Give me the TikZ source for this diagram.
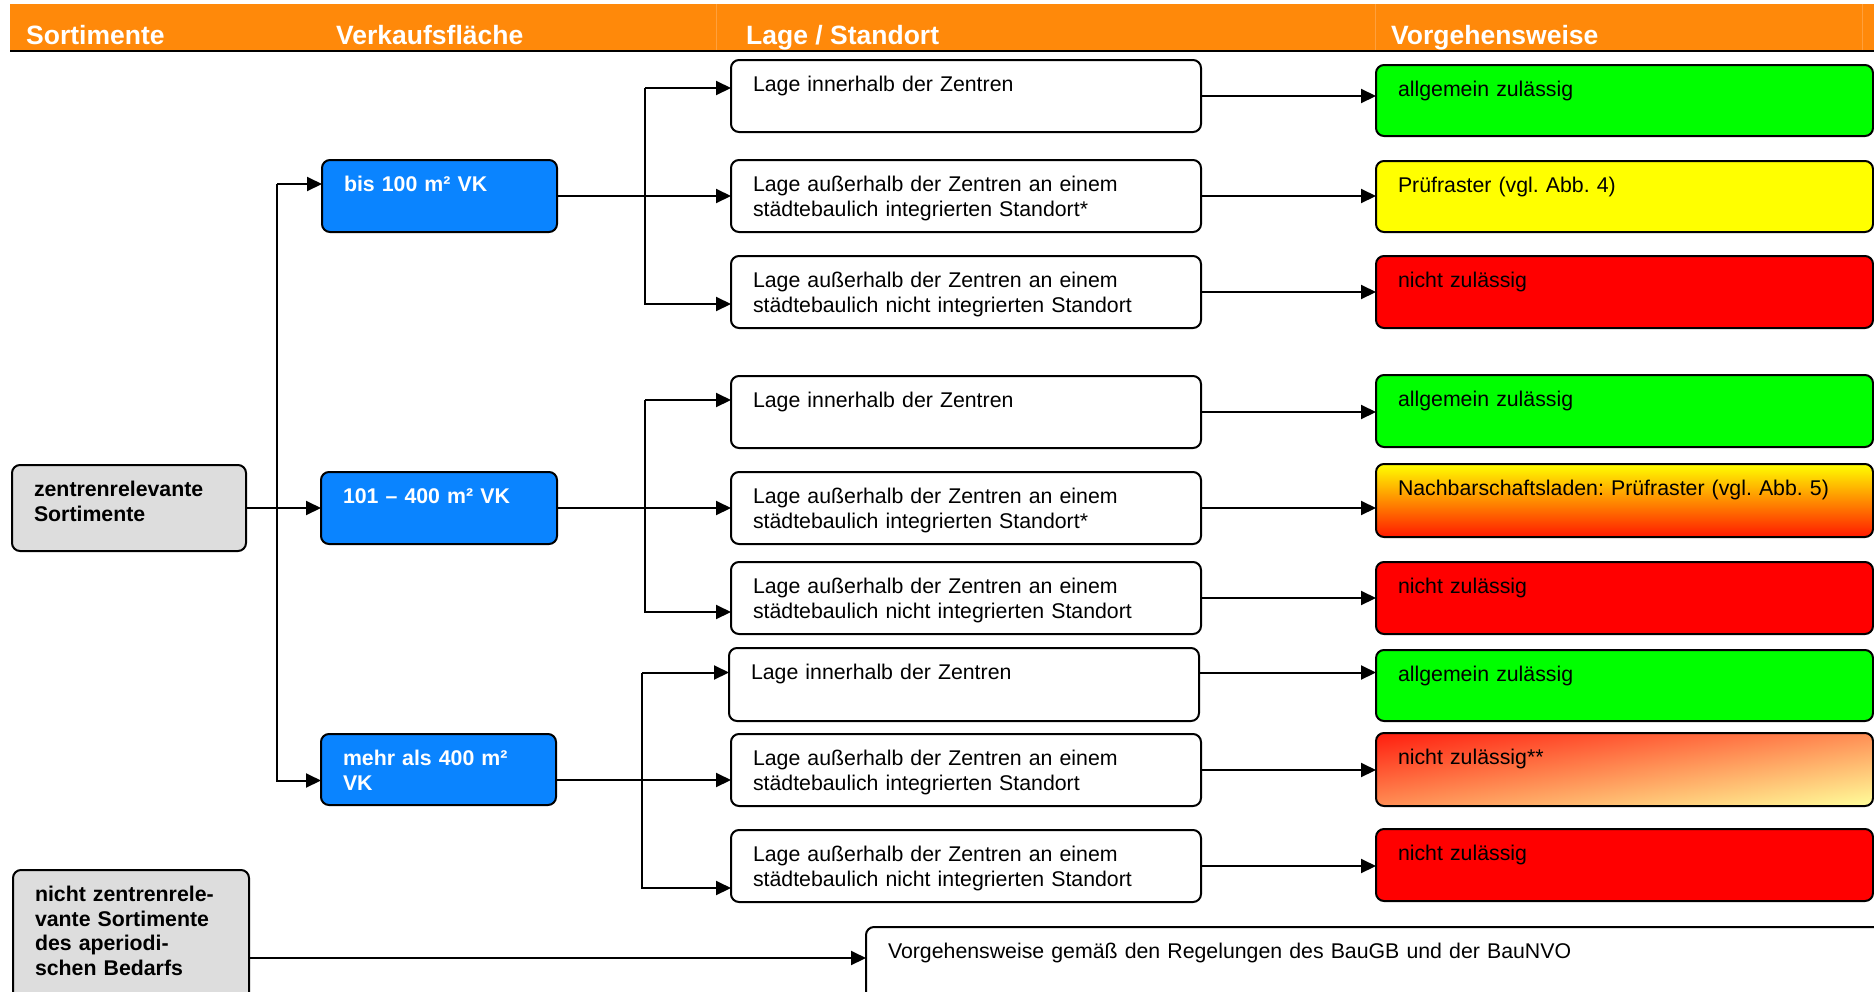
\documentclass[tikz,border=0pt]{standalone}
\usepackage{fontspec}
\setmainfont{Liberation Sans}
\usetikzlibrary{arrows.meta,backgrounds}
\frenchspacing
\definecolor{hdr}{RGB}{255,137,10}
\definecolor{hdrline}{RGB}{255,160,60}
\definecolor{vkblue}{RGB}{10,132,255}
\definecolor{sgrey}{RGB}{221,221,221}
\definecolor{okgreen}{RGB}{0,255,0}
\definecolor{pryellow}{RGB}{255,255,0}
\definecolor{nored}{RGB}{255,0,0}
\definecolor{gradred}{RGB}{255,25,0}
\definecolor{startred}{RGB}{255,30,15}
\definecolor{lightyel}{RGB}{255,255,155}
\begin{document}
\begin{tikzpicture}[x=1pt,y=-1pt,
  bx/.style={draw=black, line width=2pt, rounded corners=8pt, anchor=north west,
    inner xsep=22pt, inner ysep=0pt, outer sep=0pt, align=left,
    minimum width=0pt, minimum height=0pt, text height=31.5pt,
    font=\fontsize{21.3}{24.5}\selectfont},
  lage/.style={bx, fill=white, text width=426pt},
  res/.style={bx, text width=453pt},
  vk/.style={bx, fill=vkblue, text=white, font=\fontsize{21.3}{24.5}\selectfont\bfseries},
  sort/.style={bx, fill=sgrey, font=\fontsize{21.3}{24.5}\selectfont\bfseries},
  arr/.style={line width=2pt, -{Triangle[length=15pt,width=14pt]}},
  hd/.style={anchor=base west, text=white, inner sep=0pt,
    font=\fontsize{26.5}{30}\selectfont\bfseries}
]
\useasboundingbox (0,0) rectangle (1874,991);
\clip (0,0) rectangle (1874,991);

% header band
\fill[hdr] (10,4) rectangle (1874,50);
\foreach \xx in {716,1375,1862} \draw[hdrline, line width=1pt] (\xx,4) -- (\xx,50);
\draw[line width=2pt] (10,51) -- (1874,51);
\node[hd] (h1) at (26,44) {Sortimente};
\node[hd] (h2) at (336,44) {Verkaufsfläche};
\node[hd] (h3) at (746,44) {Lage / Standort};
\node[hd] (h4) at (1391,44) {Vorgehensweise};

% Sortimente
\node[sort, text width=190pt, text depth=54.5pt] (g1) at (12,465) {zentrenrelevante\\Sortimente};
\node[sort, text width=192pt, text depth=118.5pt] (g2) at (13,870) {nicht zentrenrele-\\vante Sortimente\\des aperiodi-\\schen Bedarfs};

% Verkaufsflaeche
\node[vk, text width=191pt, text depth=40.5pt] (b1) at (322,160) {bis 100 m² VK};
\node[vk, text width=192pt, text depth=40.5pt] (b2) at (321,472) {101 – 400 m² VK};
\node[vk, text width=191pt, text depth=39.5pt] (b3) at (321,734) {mehr als 400 m²\\VK};

% Lage
\node[lage, text depth=40.5pt] (l1) at (731,60)  {Lage innerhalb der Zentren};
\node[lage, text depth=40.5pt] (l2) at (731,160) {Lage außerhalb der Zentren an einem\\städtebaulich integrierten Standort*};
\node[lage, text depth=40.5pt] (l3) at (731,256) {Lage außerhalb der Zentren an einem\\städtebaulich nicht integrierten Standort};
\node[lage, text depth=40.5pt] (l4) at (731,376) {Lage innerhalb der Zentren};
\node[lage, text depth=40.5pt] (l5) at (731,472) {Lage außerhalb der Zentren an einem\\städtebaulich integrierten Standort*};
\node[lage, text depth=40.5pt] (l6) at (731,562) {Lage außerhalb der Zentren an einem\\städtebaulich nicht integrierten Standort};
\node[lage, text depth=41.5pt] (l7) at (729,648) {Lage innerhalb der Zentren};
\node[lage, text depth=40.5pt] (l8) at (731,734) {Lage außerhalb der Zentren an einem\\städtebaulich integrierten Standort};
\node[lage, text depth=40.5pt] (l9) at (731,830) {Lage außerhalb der Zentren an einem\\städtebaulich nicht integrierten Standort};

% Vorgehensweise
\node[res, fill=okgreen, text depth=39.5pt] (r1) at (1376,65)  {allgemein zulässig};
\node[res, fill=pryellow, text depth=39.5pt] (r2) at (1376,161) {Prüfraster (vgl. Abb. 4)};
\node[res, fill=nored, text depth=40.5pt] (r3) at (1376,256) {nicht zulässig};
\node[res, fill=okgreen, text depth=40.5pt] (r4) at (1376,375) {allgemein zulässig};
\node[res, top color=pryellow, bottom color=gradred, text depth=41.5pt] (r5) at (1376,464) {Nachbarschaftsladen: Prüfraster (vgl. Abb. 5)};
\node[res, fill=nored, text depth=40.5pt] (r6) at (1376,562) {nicht zulässig};
\node[res, fill=okgreen, text depth=39.5pt] (r7) at (1376,650) {allgemein zulässig};
\node[res, text depth=41.5pt] (r8) at (1376,733) {nicht zulässig**};
\node[res, fill=nored, text depth=40.5pt] (r9) at (1376,829) {nicht zulässig};
% diagonal gradient of r8 (red at top left, light yellow at bottom right)
\begin{pgfonlayer}{background}
  \shade[top color=startred, bottom color=lightyel, rounded corners=8pt]
    (r8.north west) rectangle (r8.south east);
  \shade[left color=startred, right color=lightyel, opacity=0.5, rounded corners=8pt]
    (r8.north west) rectangle (r8.south east);
\end{pgfonlayer}

% bottom box
\node[bx, fill=white, text width=986pt, text depth=68.5pt] (bb) at (866,927) {Vorgehensweise gemäß den Regelungen des BauGB und der BauNVO};

% connectors: Sortimente -> Verkaufsflaeche
\coordinate (tr) at (277,0);
\coordinate (b1in) at ([yshift=12pt]b1.west);
\coordinate (b3in) at ([yshift=-11pt]b3.west);
\draw[arr] (g1.east) -- (g1.east -| b2.west);
\draw[arr] (tr |- b1in) -- (b1in);
\draw[arr] (tr |- b1in) |- (b3in);

% Verkaufsflaeche -> Lage, group 1
\coordinate (br1) at (645,0);
\coordinate (l1in) at ([yshift=8pt]l1.west);
\coordinate (l3in) at ([yshift=-12pt]l3.west);
\draw[arr] (b1.east) -- (b1.east -| l2.west);
\draw[arr] (br1 |- l1in) -- (l1in);
\draw[arr] (br1 |- l1in) |- (l3in);

% group 2
\coordinate (l4in) at ([yshift=12pt]l4.west);
\coordinate (l6in) at ([yshift=-14pt]l6.west);
\draw[arr] (b2.east) -- (b2.east -| l5.west);
\draw[arr] (br1 |- l4in) -- (l4in);
\draw[arr] (br1 |- l4in) |- (l6in);

% group 3
\coordinate (br3) at (642,0);
\coordinate (b3out) at ([yshift=-10.5pt]b3.east);
\coordinate (l7in) at ([yshift=12pt]l7.west);
\coordinate (l9in) at ([yshift=-22pt]l9.west);
\draw[arr] (b3out) -- (b3out -| l8.west);
\draw[arr] (br3 |- l7in) -- (l7in);
\draw[arr] (br3 |- l7in) |- (l9in);

% Lage -> Vorgehensweise
\draw[arr] (l1.east) -- (l1.east -| r1.west);
\draw[arr] (l2.east) -- (l2.east -| r2.west);
\draw[arr] (l3.east) -- (l3.east -| r3.west);
\draw[arr] (l4.east) -- (l4.east -| r4.west);
\draw[arr] (l5.east) -- (l5.east -| r5.west);
\draw[arr] (l6.east) -- (l6.east -| r6.west);
\coordinate (l7out) at ([yshift=12pt]l7.east);
\draw[arr] (l7out) -- (l7out -| r7.west);
\draw[arr] (l8.east) -- (l8.east -| r8.west);
\draw[arr] (l9.east) -- (l9.east -| r9.west);

% nicht zentrenrelevante -> bottom box
\coordinate (bbin) at ([yshift=-31pt]bb.north west);
\draw[arr] (g2.east |- bbin) -- (bbin);
\end{tikzpicture}
\end{document}
